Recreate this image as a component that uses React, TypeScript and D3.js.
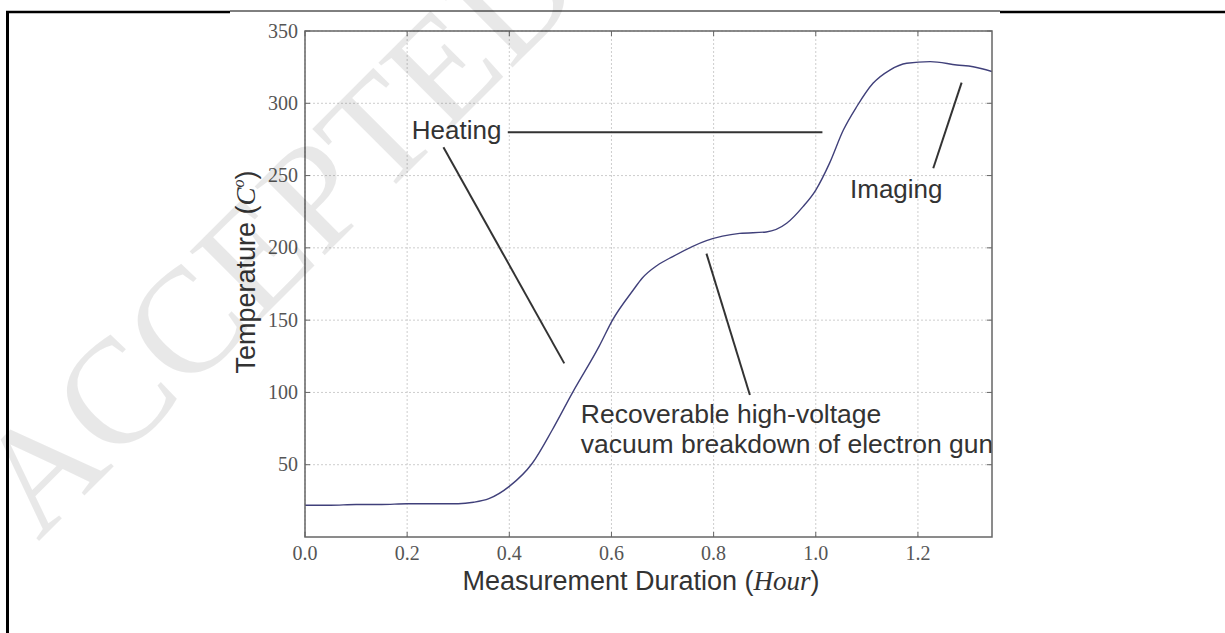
import React from "react";
import * as d3 from "d3";

const hours = [0, 0.05, 0.1, 0.15, 0.2, 0.25, 0.3, 0.33, 0.36, 0.4, 0.445, 0.484, 0.524, 0.576, 0.602, 0.643, 0.66, 0.69, 0.72, 0.786, 0.851, 0.903, 0.943, 0.975, 1.0, 1.027, 1.054, 1.08, 1.112, 1.145, 1.178, 1.224, 1.276, 1.308, 1.345];
const temps = [22, 22, 22.5, 22.5, 23, 23, 23, 24, 26.5, 35, 51, 74, 100, 132, 150, 171, 179, 188, 194, 205, 210, 211, 217, 228.5, 240, 258.6, 281.5, 297.6, 313.8, 323, 327.7, 328.8, 326.5, 325.3, 322];

const xTicks = [0, 0.2, 0.4, 0.6, 0.8, 1.0, 1.2];
const yTicks = [50, 100, 150, 200, 250, 300, 350];

const annotationTexts = [["Heating"], ["Recoverable high-voltage", "vacuum breakdown of electron gun"], ["Imaging"]];
const annotationAnchors = [[0.209, 275], [0.54, 79.1], [1.067, 234.3]];
const annotationSizes = [26, 26.5, 26];
const annotationLines = [
  [[0.397, 280], [1.013, 280]],
  [[0.271, 269.6], [0.5076, 120.1]],
  [[0.786, 196], [0.871, 98.2]],
  [[1.2855, 314.3], [1.23, 255.1]],
];

const W = 1225, H = 633;
const L = 305, R = 992, T = 31, B = 537;
const SANS = "'Liberation Sans', Arial, sans-serif";
const SERIF = "'Liberation Serif', 'DejaVu Serif', serif";

export default function App() {
  const x = d3.scaleLinear().domain([0, 1.345]).range([L, R]);
  const y = d3.scaleLinear().domain([0, 350]).range([B, T]);
  const pts = hours.map((h, i) => [h, temps[i]] as [number, number]);
  const line = d3.line<[number, number]>().x(d => x(d[0])).y(d => y(d[1])).curve(d3.curveMonotoneX);

  return (
    <svg width={W} height={H} style={{ position: "absolute", left: 0, top: 0, background: "#fff" }}>
      <defs>
        <clipPath id="plotclip"><rect x={L} y={T} width={R - L} height={B - T} /></clipPath>
      </defs>
      {/* page frame */}
      <line x1={6} y1={12} x2={230} y2={12} stroke="#000" strokeWidth={2.5} />
      <line x1={230} y1={11} x2={1000} y2={11} stroke="#000" strokeWidth={1} />
      <line x1={1000} y1={12} x2={1225} y2={12} stroke="#000" strokeWidth={2.5} />
      <line x1={7.5} y1={11} x2={7.5} y2={633} stroke="#000" strokeWidth={3} />

      {/* grid */}
      {xTicks.map(t => (
        <line key={"gx" + t} x1={x(t)} x2={x(t)} y1={T} y2={B} stroke="#cdcdcd" strokeDasharray="2,2" />
      ))}
      {yTicks.map(t => (
        <line key={"gy" + t} x1={L} x2={R} y1={y(t)} y2={y(t)} stroke="#cdcdcd" strokeDasharray="2,2" />
      ))}
      {/* ticks inward */}
      {xTicks.map(t => (
        <g key={"tx" + t}>
          <line x1={x(t)} x2={x(t)} y1={B} y2={B - 5} stroke="#666" />
          <line x1={x(t)} x2={x(t)} y1={T} y2={T + 5} stroke="#666" />
          <text x={x(t)} y={560} textAnchor="middle" fontFamily={SERIF} fontSize={20} fill="#555">{t.toFixed(1)}</text>
        </g>
      ))}
      {yTicks.map(t => (
        <g key={"ty" + t}>
          <line x1={L} x2={L + 5} y1={y(t)} y2={y(t)} stroke="#666" />
          <line x1={R} x2={R - 5} y1={y(t)} y2={y(t)} stroke="#666" />
          <text x={298} y={y(t)} dy="0.33em" textAnchor="end" fontFamily={SERIF} fontSize={20} fill="#555">{t}</text>
        </g>
      ))}

      {/* data */}
      <path d={line(pts) || ""} fill="none" stroke="#40407a" strokeWidth={1.4} clipPath="url(#plotclip)" />

      {/* annotations */}
      <g clipPath="url(#plotclip)">
        {annotationLines.map((l, i) => (
          <line key={"al" + i} x1={x(l[0][0])} y1={y(l[0][1])} x2={x(l[1][0])} y2={y(l[1][1])} stroke="#333" strokeWidth={2} />
        ))}
        {annotationTexts.map((lines, i) => (
          <text key={"at" + i} x={x(annotationAnchors[i][0])} y={y(annotationAnchors[i][1])} fontFamily={SANS} fontSize={annotationSizes[i]} fill="#333">
            {lines.map((s, j) => (
              <tspan key={j} x={x(annotationAnchors[i][0])} dy={j === 0 ? 0 : 30}>{s}</tspan>
            ))}
          </text>
        ))}
      </g>

      {/* axes frame */}
      <rect x={L} y={T} width={R - L} height={B - T} fill="none" stroke="#666" strokeWidth={1.5} />

      {/* axis labels */}
      <text x={641} y={590} textAnchor="middle" fontFamily={SANS} fontSize={27} fill="#333">
        Measurement Duration (<tspan fontFamily={SERIF} fontStyle="italic">Hour</tspan>)
      </text>
      <text transform="translate(255,272) rotate(-90)" textAnchor="middle" fontFamily={SANS} fontSize={27} fill="#333">
        Temperature (<tspan fontFamily={SERIF} fontStyle="italic">C</tspan><tspan fontFamily={SERIF} fontStyle="italic" fontSize={16} dy={-11}>o</tspan><tspan dy={11}>)</tspan>
      </text>

      {/* watermark */}
      <text transform="translate(38,542) rotate(-45)" fontFamily={SERIF} fontSize={150} fill="#000" fillOpacity={0.09}>ACCEPTED</text>
    </svg>
  );
}
